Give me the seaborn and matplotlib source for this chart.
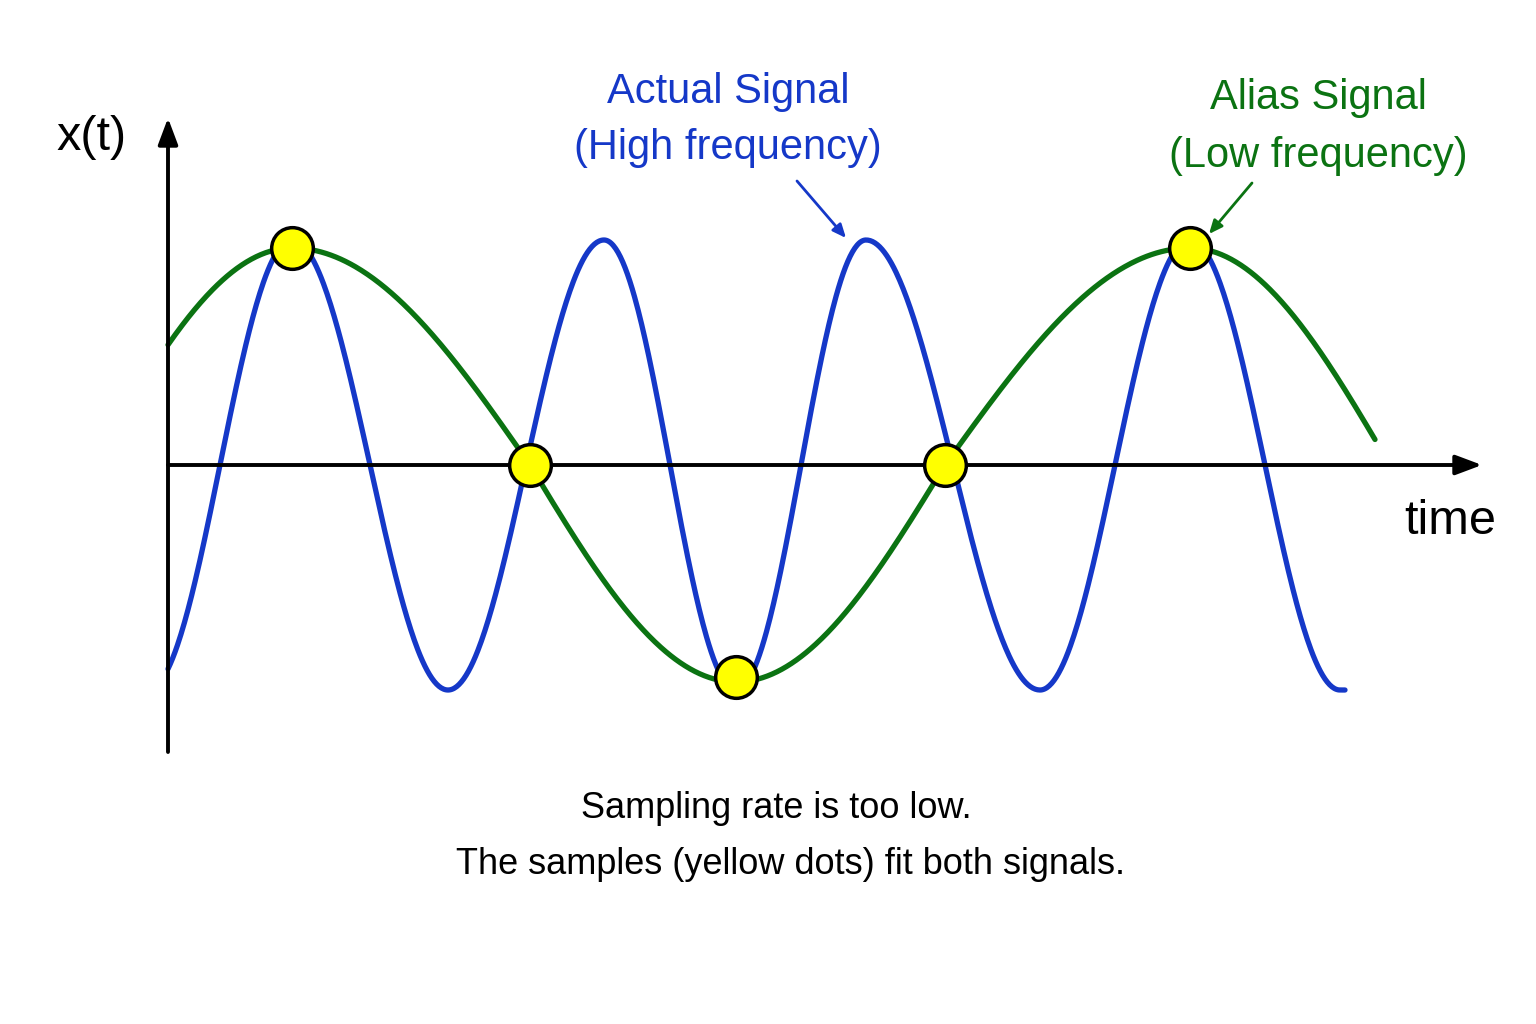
import numpy as np
import pandas as pd
import matplotlib
matplotlib.use("Agg")
import matplotlib.pyplot as plt
import seaborn as sns

# picture coordinates (pixels), origin of the axes at (168, 465)
origin_x, origin_y = 168, 465

# actual signal: times of its peaks / troughs
actual_amp = 225
actual_key_t = [148, 292, 448, 604, 736, 866, 1040, 1190, 1340]
actual_key_phase = [-0.5, 0.5, 1.5, 2.5, 3.5, 4.5, 5.5, 6.5, 7.5]   # in units of pi
actual_start, actual_end = 168, 1345

# alias signal: zero crossings and extremes
alias_amp = 217
alias_key_t = [94, 292, 530, 736, 945, 1190, 1390]
alias_key_phase = [0, 0.5, 1.0, 1.5, 2.0, 2.5, 3.0]
alias_start, alias_end = 168, 1375

# sample points (yellow dots)
sample_t = [292, 530, 736, 945, 1190]
sample_x = [248, 465, 677, 465, 248]

blue = "#1538c8"
green = "#0b7312"


def signal(t, key_t, key_phase, amp):
    phase = np.interp(t, key_t, key_phase) * np.pi
    return origin_y - amp * np.sin(phase)


t1 = np.linspace(actual_start, actual_end, 1000)
actual = pd.DataFrame({"t": t1, "x": signal(t1, actual_key_t, actual_key_phase, actual_amp)})
t2 = np.linspace(alias_start, alias_end, 1000)
alias = pd.DataFrame({"t": t2, "x": signal(t2, alias_key_t, alias_key_phase, alias_amp)})
samples = pd.DataFrame({"t": sample_t, "x": sample_x})

sns.set_style("white")
plt.rcParams["font.family"] = ["Liberation Sans", "DejaVu Sans"]
fig = plt.figure(figsize=(15.36, 10.24), dpi=100)
ax = fig.add_axes([0, 0, 1, 1])
ax.set_xlim(0, 1536)
ax.set_ylim(1024, 0)
ax.axis("off")

sns.lineplot(data=alias, x="t", y="x", color=green, lw=3.8, ax=ax, sort=False, zorder=2)
sns.lineplot(data=actual, x="t", y="x", color=blue, lw=3.8, ax=ax, sort=False, zorder=3)

# axes with arrow heads
ax.annotate("", xy=(1482, origin_y), xytext=(origin_x, origin_y),
            arrowprops=dict(arrowstyle="-|>,head_length=1.6,head_width=0.6", color="black", lw=2.8, shrinkA=0, shrinkB=0), zorder=4)
ax.annotate("", xy=(origin_x, 118), xytext=(origin_x, 752),
            arrowprops=dict(arrowstyle="-|>,head_length=1.6,head_width=0.6", color="black", lw=2.8, shrinkA=0, shrinkB=0), zorder=4)

sns.scatterplot(data=samples, x="t", y="x", s=900, color="#ffff00", edgecolor="black", linewidth=2.5, ax=ax, zorder=5)

ax.text(92, 138, "x(t)", fontsize=35, ha="center", va="center", color="black")
ax.text(1450, 522, "time", fontsize=35, ha="center", va="center", color="black")
ax.text(728, 92, "Actual Signal", fontsize=30, color=blue, ha="center", va="center")
ax.text(728, 148, "(High frequency)", fontsize=30, color=blue, ha="center", va="center")
ax.text(1318, 98, "Alias Signal", fontsize=30, color=green, ha="center", va="center")
ax.text(1318, 156, "(Low frequency)", fontsize=30, color=green, ha="center", va="center")
ax.annotate("", xy=(846, 238), xytext=(797, 181),
            arrowprops=dict(arrowstyle="-|>,head_length=0.8,head_width=0.35", color=blue, lw=2, shrinkA=0, shrinkB=0))
ax.annotate("", xy=(1209, 234), xytext=(1252, 183),
            arrowprops=dict(arrowstyle="-|>,head_length=0.8,head_width=0.35", color=green, lw=2, shrinkA=0, shrinkB=0))

ax.text(776, 808, "Sampling rate is too low.", fontsize=26, ha="center", va="center", color="black")
ax.text(790, 864, "The samples (yellow dots) fit both signals.", fontsize=26, ha="center", va="center", color="black")

fig.savefig("out.png", dpi=100)
